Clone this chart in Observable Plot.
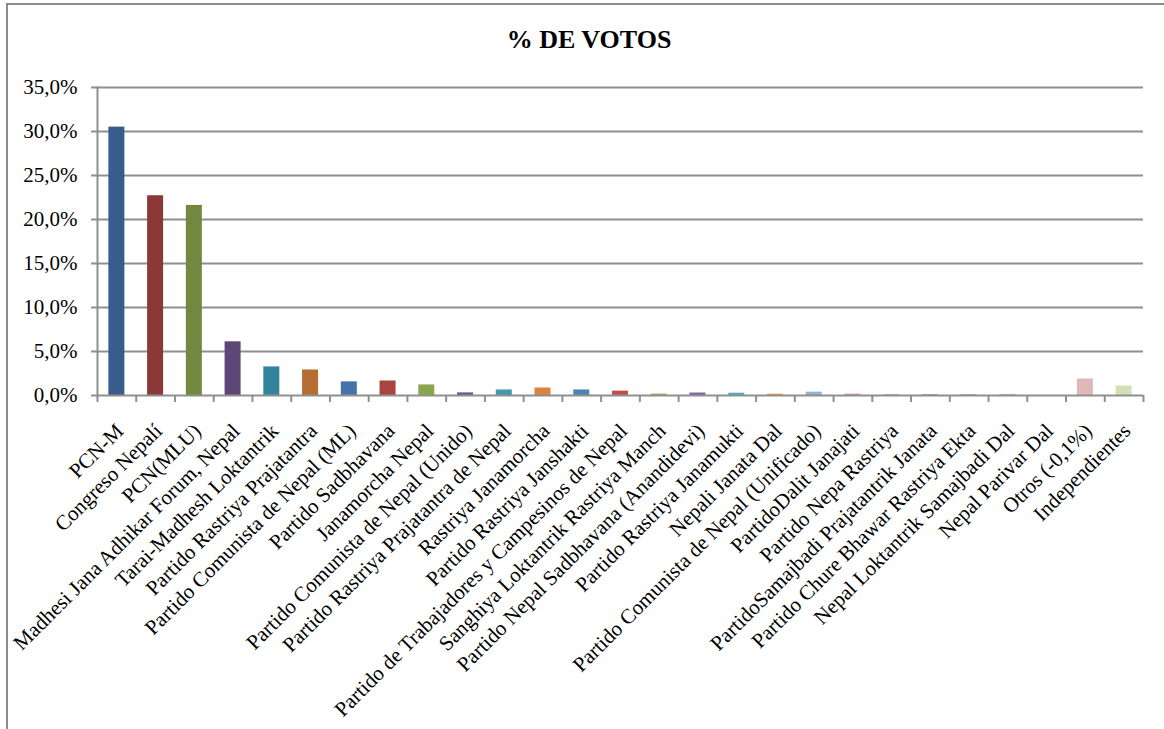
<!DOCTYPE html>
<html>
<head>
<meta charset="utf-8">
<script src="https://cdn.jsdelivr.net/npm/d3@7"></script>
<script src="https://cdn.jsdelivr.net/npm/@observablehq/plot@0.6"></script>
<style>
  html, body { margin: 0; padding: 0; background: #fff; }
  #wrap { position: relative; width: 1164px; height: 729px; overflow: hidden; }
  #frame { position: absolute; left: 6px; top: 3px; width: 1300px; height: 900px; border-left: 2px solid #8c8c8c; border-top: 2px solid #8c8c8c; }
  #title { position: absolute; left: 0; top: 25px; width: 1178px; text-align: center; font-family: "Liberation Serif", serif; font-weight: bold; font-size: 26px; line-height: 30px; color: #000; }
  #chart { position: absolute; left: 0; top: 0; }
</style>
</head>
<body>
<div id="wrap">
  <div id="frame"></div>
  <div id="title">% DE VOTOS</div>
  <div id="chart"></div>
</div>
<script>
const categories = [
  "PCN-M",
  "Congreso Nepalí",
  "PCN(MLU)",
  "Madhesi Jana Adhikar Forum, Nepal",
  "Tarai-Madhesh Loktantrik",
  "Partido Rastriya Prajatantra",
  "Partido Comunista de Nepal (ML)",
  "Partido Sadbhavana",
  "Janamorcha Nepal",
  "Partido Comunista de Nepal (Unido)",
  "Partido Rastriya Prajatantra de Nepal",
  "Rastriya Janamorcha",
  "Partido Rastriya Janshakti",
  "Partido de Trabajadores y Campesinos de Nepal",
  "Sanghiya Loktantrik Rastriya Manch",
  "Partido Nepal Sadbhavana (Anandidevi)",
  "Partido Rastriya Janamukti",
  "Nepali Janata Dal",
  "Partido Comunista de Nepal (Unificado)",
  "PartidoDalit Janajati",
  "Partido Nepa Rastriya",
  "PartidoSamajbadi Prajatantrik Janata",
  "Partido Chure Bhawar Rastriya Ekta",
  "Nepal Loktantrik Samajbadi Dal",
  "Nepal Parivar Dal",
  "Otros (-0,1%)",
  "Independientes"
];
const votes = [
  30.5, 22.7, 21.6, 6.1, 3.25, 2.9, 1.55, 1.65, 1.2, 0.3,
  0.63, 0.85, 0.63, 0.5, 0.17, 0.28, 0.26, 0.15, 0.38, 0.15,
  0.1, 0.1, 0.1, 0.1, 0.0, 1.88, 1.08
];
const barColors = [
  "#385D8A", "#8C3836", "#71893F", "#5C4776", "#31849B", "#B66D31",
  "#4672A9", "#A9443F", "#89A54E", "#71588F", "#4198AF", "#DB843D",
  "#4F81BD", "#C0504D", "#9BBB59", "#8064A2", "#4BACC6", "#F79646",
  "#95B3D7", "#D99694", "#A9B98A", "#A097B0", "#8FAEB8", "#D5A58A",
  "#A5B6D6", "#E0B8B7", "#D3DEBA"
];
const yTicks = [0, 5, 10, 15, 20, 25, 30, 35];

const data = categories.map((c, i) => ({party: c, pct: votes[i], color: barColors[i]}));

const W = 1164, H = 729, mL = 97, mR = 21, mT = 87, mB = 334;
const step = (W - mL - mR) / categories.length;
const barW = 16;
const inset = (step - barW) / 2;
const fmt = d => d.toFixed(1).replace(".", ",") + "%";

const chart = Plot.plot({
  width: W,
  height: H,
  marginTop: mT,
  marginLeft: mL,
  marginRight: mR,
  marginBottom: mB,
  style: {fontFamily: "Liberation Serif, serif", color: "#000", background: "transparent"},
  x: {domain: categories, padding: 0, round: false},
  y: {domain: [0, 35]},
  color: {type: "identity"},
  marks: [
    Plot.ruleY(yTicks.filter(d => d > 0), {stroke: "#8f8f8f", strokeWidth: 2}),
    Plot.barY(data, {x: "party", y: "pct", fill: "color", insetLeft: inset, insetRight: inset}),
    Plot.ruleY([0], {stroke: "#8f8f8f", strokeWidth: 2}),
    Plot.frame({anchor: "left", stroke: "#8f8f8f", strokeWidth: 2}),
    Plot.ruleX(categories, {x: d => d, dx: -step / 2, y1: 0, y2: 0, insetBottom: -7, stroke: "#8f8f8f", strokeWidth: 2}),
    Plot.ruleX(categories.slice(-1), {x: d => d, dx: step / 2, y1: 0, y2: 0, insetBottom: -7, stroke: "#8f8f8f", strokeWidth: 2}),
    Plot.axisY({ticks: yTicks, tickFormat: fmt, tickSize: 6, tickPadding: 14, fontSize: 21, stroke: "#8f8f8f", strokeWidth: 2, label: null}),
    Plot.axisX({tickSize: 0, tickPadding: 32, dx: 3, tickRotate: -45, fontSize: 21, label: null})
  ]
});
document.getElementById("chart").appendChild(chart);
</script>
</body>
</html>
